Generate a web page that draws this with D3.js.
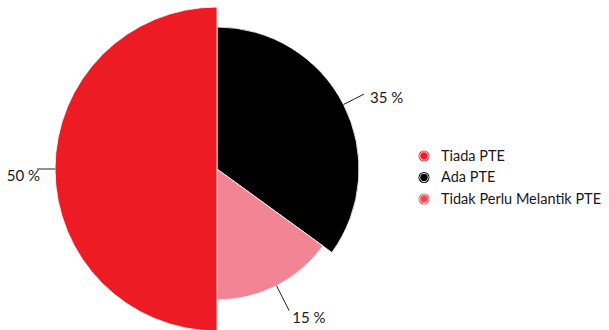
<!DOCTYPE html>
<meta charset="utf-8"/>
<html>
  <head>
    <script src="https://d3js.org/d3.v7.min.js"></script>
    <style>
      body { margin: 0; background: #fff; }
      text { font-family: Lato, 'Open Sans', sans-serif; fill: #1a1718; }
    </style>
  </head>
  <body>
<script type="text/javascript">
var width = 609;
var height = 330;

// chart data
var categories = ['Tiada PTE', 'Ada PTE', 'Tidak Perlu Melantik PTE'];
var values = [50, 35, 15];
var labels = ['50 %', '35 %', '15 %'];
var colors = ['#ed1c24', '#000000', '#f28594'];
var legendColors = ['#ed1c24', '#000000', '#ef4755'];

var cx = 217, cy = 169;
var radii = [162, 142, 131];

var svg = d3.select('body').append('svg')
    .attr('width', width)
    .attr('height', height);

var g = svg.append('g').attr('transform', 'translate(' + cx + ',' + cy + ')');

// red half goes on the left, so order: Ada, Tidak Perlu, then Tiada
var order = [1, 2, 0];
var pie = d3.pie()
    .sort(null)
    .value(function(d) { return values[d]; });
var arcs = pie(order);

var arc = d3.arc()
    .innerRadius(0)
    .outerRadius(function(d) { return radii[d.data]; });

g.selectAll('path.slice')
    .data(arcs)
    .enter()
    .append('path')
    .attr('class', 'slice')
    .attr('d', arc)
    .attr('fill', function(d) { return colors[d.data]; })
    .attr('stroke', '#fff')
    .attr('stroke-width', 0.8);

// leader lines + labels
function polar(r, a) { return [r * Math.sin(a), -r * Math.cos(a)]; }
var leaderLen = {0: 18, 1: 23, 2: 28};
var textPos = {0: [-177, 12, 'end'], 1: [153, -66, 'start'], 2: [92, 154, 'middle']};

arcs.forEach(function(d) {
  var mid = (d.startAngle + d.endAngle) / 2;
  var p0 = polar(radii[d.data], mid);
  var p1 = polar(radii[d.data] + leaderLen[d.data], mid);
  g.append('line')
      .attr('x1', p0[0]).attr('y1', p0[1])
      .attr('x2', p1[0]).attr('y2', p1[1])
      .attr('stroke', '#231f20')
      .attr('stroke-width', 1);
  var tp = textPos[d.data];
  g.append('text')
      .attr('x', tp[0]).attr('y', tp[1])
      .attr('text-anchor', tp[2])
      .style('font-size', '15px')
      .text(labels[d.data]);
});

// legend
var legend = svg.append('g').attr('transform', 'translate(424,156)');
var item = legend.selectAll('g')
    .data(categories)
    .enter()
    .append('g')
    .attr('transform', function(d, i) { return 'translate(0,' + (i * 21.5) + ')'; });
item.append('circle')
    .attr('r', 5.5)
    .attr('fill', function(d, i) { return legendColors[i]; });
item.append('circle')
    .attr('r', 4.2)
    .attr('fill', 'none')
    .attr('stroke', '#fff')
    .attr('stroke-width', 0.9);
item.append('text')
    .attr('x', 17)
    .attr('y', 4.8)
    .style('font-size', '14.5px')
    .text(function(d) { return d; });
</script>
  </body>
</html>
